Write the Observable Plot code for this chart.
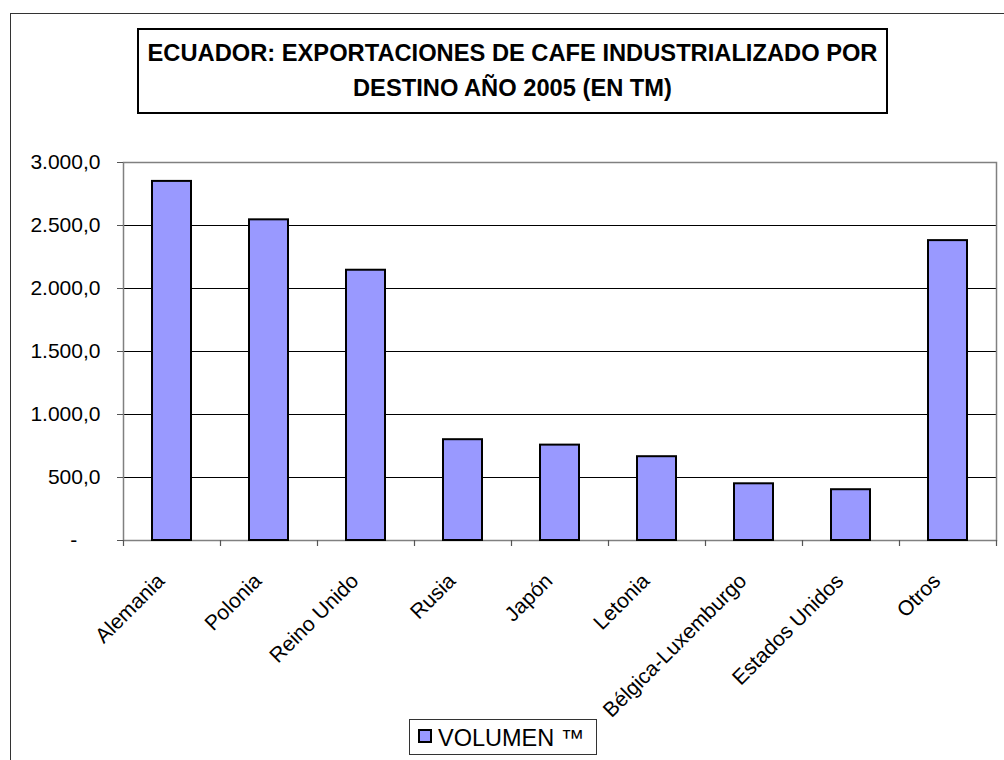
<!DOCTYPE html>
<html>
<head>
<meta charset="utf-8">
<script src="https://cdn.jsdelivr.net/npm/d3@7"></script>
<script src="https://cdn.jsdelivr.net/npm/@observablehq/plot@0.6"></script>
<style>
  body { margin: 0; background: #fff; font-family: Arial, "Liberation Sans", sans-serif; }
  #wrap { position: relative; width: 1004px; height: 760px; overflow: hidden; background: #fff; }
  #outer { position: absolute; left: 10px; top: 13px; width: 1100px; height: 900px; border: 1.5px solid #333; }
  #chart { position: absolute; left: 0; top: 0; }
  #title { position: absolute; left: 137px; top: 28px; width: 747px; height: 76px; border: 2px solid #000; background: #fff;
           text-align: center; font-weight: bold; font-size: 23.7px; line-height: 35px; padding-top: 6px; box-sizing: content-box; }
  #title div { white-space: nowrap; }
  #legend { position: absolute; left: 409px; top: 719px; width: 186px; height: 34px; border: 1px solid #333; background: #fff;
            font-size: 23.5px; line-height: 36px; white-space: nowrap; }
  #legend .sw { position: absolute; left: 8px; top: 9px; width: 10px; height: 10px; background: #9999ff; border: 2px solid #000; }
  #legend .lbl { position: absolute; left: 28px; top: 0; }
</style>
</head>
<body>
<div id="wrap">
  <div id="outer"></div>
  <div id="chart"></div>
  <div id="title"><div>ECUADOR: EXPORTACIONES DE CAFE INDUSTRIALIZADO POR</div><div>DESTINO AÑO 2005 (EN TM)</div></div>
  <div id="legend"><span class="sw"></span><span class="lbl">VOLUMEN ™</span></div>
</div>
<script>
const categories = ["Alemania", "Polonia", "Reino Unido", "Rusia", "Japón", "Letonia", "Bélgica-Luxemburgo", "Estados Unidos", "Otros"];
const volumen = [2850, 2545, 2145, 800, 757, 665, 450, 403, 2380];
const yTicks = [0, 500, 1000, 1500, 2000, 2500, 3000];

const data = categories.map((c, i) => ({destino: c, volumen: volumen[i]}));

const W = 1004, H = 760;
const mTop = 162, mLeft = 123, mRight = 8, mBottom = 220;
const padIn = 0.6, padOut = 0.3;
const step = (W - mLeft - mRight) / (categories.length - padIn + 2 * padOut);
const yMax = 3000;
const unitsPerPx = yMax / (H - mTop - mBottom);

const fmt = d3.formatLocale({decimal: ",", thousands: ".", grouping: [3], currency: ["", ""]}).format(",.1f");

const chart = Plot.plot({
  width: W,
  height: H,
  marginTop: mTop,
  marginLeft: mLeft,
  marginRight: mRight,
  marginBottom: mBottom,
  style: {fontFamily: "Arial, 'Liberation Sans', sans-serif", background: "transparent", color: "#000"},
  x: {domain: categories, paddingInner: padIn, paddingOuter: padOut, align: 0.5, axis: null},
  y: {domain: [0, yMax], axis: null},
  marks: [
    Plot.ruleY(yTicks.filter(d => d > 0 && d < yMax), {stroke: "#000", strokeWidth: 1}),
    Plot.frame({stroke: "#808080", strokeWidth: 1.5}),
    Plot.axisY({ticks: yTicks, tickSize: 6, tickPadding: 17, stroke: "#555", fontSize: 21, label: null,
                tickFormat: d => d === 0 ? "-\u2007\u2007" : fmt(d)}),
    Plot.barY(data, {x: "destino", y: "volumen", fill: "#9999ff", stroke: "#000", strokeWidth: 2}),
    Plot.ruleX(categories, {x: d => d, dx: -step / 2, y1: 0, y2: -6 * unitsPerPx, stroke: "#555", strokeWidth: 1.2}),
    Plot.ruleX(categories.slice(-1), {x: d => d, dx: step / 2, y1: 0, y2: -6 * unitsPerPx, stroke: "#555", strokeWidth: 1.2}),
    Plot.text(categories, {x: d => d, y: 0, text: d => d, rotate: -45, textAnchor: "end", lineAnchor: "middle",
                           dx: -11, dy: 37, fontSize: 21, fill: "#000"})
  ]
});
document.getElementById("chart").appendChild(chart);
</script>
</body>
</html>
